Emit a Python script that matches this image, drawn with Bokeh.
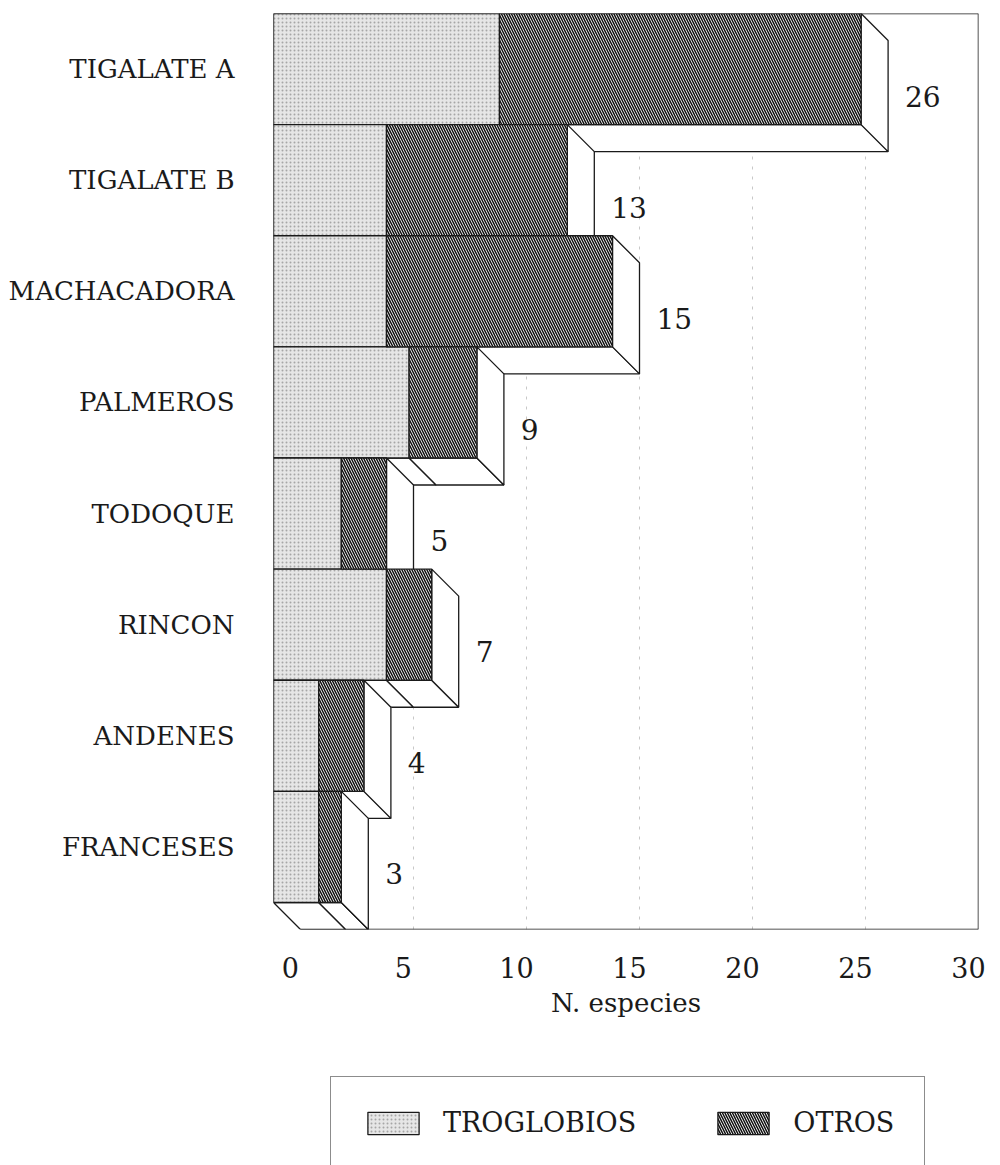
from bokeh.plotting import figure
from bokeh.models import Range1d, LinearAxis, FixedTicker, Legend, LegendItem
from bokeh.layouts import column
from bokeh.embed import file_html
from bokeh.resources import INLINE
from bokeh.core.properties import value

# ---- data ----
categories = ["TIGALATE A", "TIGALATE B", "MACHACADORA", "PALMEROS",
              "TODOQUE", "RINCON", "ANDENES", "FRANCESES"]
troglobios = [10, 5, 5, 6, 3, 5, 2, 2]
otros = [16, 8, 10, 3, 2, 2, 2, 1]
x_ticks = [0, 5, 10, 15, 20, 25, 30]
grid_ticks = [5, 10, 15, 20, 25]
series_names = ["TROGLOBIOS", "OTROS"]
x_title = "N. especies"

# ---- layout ----
W, H = 1000, 1060
H2 = 1165 - H
FL, FR, FT = 273, 22, 13
FB = H - 929
frame_w = W - FL - FR
frame_h = H - FT - FB
n = len(categories)
depth_px = 27
xmax = 30
kx = (frame_w - depth_px) / xmax
dx = depth_px / kx
ky = (frame_h - depth_px) / n
dy = depth_px / ky
FONT = "DejaVu Serif"
INK = "#1a1a1a"

TROG_STYLE = dict(fill_color="#e6e6e6", line_color=INK, line_width=1.3,
                  hatch_pattern=".", hatch_color="#8a8a8a", hatch_scale=4,
                  hatch_weight=0.7, hatch_alpha=0.7)
OTROS_STYLE = dict(fill_color="white", line_color=INK, line_width=1.3,
                   hatch_pattern="\\", hatch_color="#111111", hatch_scale=5,
                   hatch_weight=1.5)

p = figure(width=W, height=H, x_range=Range1d(0, xmax + dx), y_range=Range1d(-dy, n),
           output_backend="svg", toolbar_location=None,
           x_axis_location=None, y_axis_location=None,
           min_border_left=FL, min_border_right=FR, min_border_top=FT, min_border_bottom=FB)
p.outline_line_color = None
p.grid.visible = False
p.background_fill_color = "white"
p.border_fill_color = "white"

# gridlines on the back wall
p.segment(x0=[g + dx for g in grid_ticks], x1=[g + dx for g in grid_ticks],
          y0=[-dy] * len(grid_ticks), y1=[n] * len(grid_ticks),
          line_color="#c8c8c8", line_width=1, line_dash="3 7")

# frame lines
p.line(x=[0, xmax + dx], y=[n, n], line_color=INK, line_width=1.5)
p.line(x=[xmax + dx, xmax + dx], y=[n, -dy], line_color=INK, line_width=1.5)
p.line(x=[dx, xmax + dx], y=[-dy, -dy], line_color=INK, line_width=1.5)
p.line(x=[0, 0], y=[0, n], line_color=INK, line_width=1.5)

# 3D faces (bottom & right side), drawn top bar first
fx, fy = [], []
tl, tr, tb, tt = [], [], [], []
ol, orr, ob, ot = [], [], [], []
lx, ly, lt = [], [], []
for k, cat in enumerate(categories):
    i = n - 1 - k
    t = troglobios[k]
    o = otros[k]
    T = t + o
    for a, b in [(0, t), (t, T)]:
        fx.append([a, b, b + dx, a + dx])
        fy.append([i, i, i - dy, i - dy])
    fx.append([T, T + dx, T + dx, T])
    fy.append([i + 1, i + 1 - dy, i - dy, i])
    tl.append(0); tr.append(t); tb.append(i); tt.append(i + 1)
    ol.append(t); orr.append(T); ob.append(i); ot.append(i + 1)
    lx.append(T + dx + 0.75); ly.append(i + 0.5 - dy); lt.append(str(T))

p.patches(xs=fx, ys=fy, fill_color="white", line_color=INK, line_width=1.3)

p.quad(left=tl, right=tr, bottom=tb, top=tt, **TROG_STYLE)
p.quad(left=ol, right=orr, bottom=ob, top=ot, **OTROS_STYLE)

p.text(x=lx, y=ly, text=lt, text_font=value(FONT), text_font_size="28px",
       text_baseline="middle", text_align="left", text_color=INK)

# axes
p.extra_y_ranges = {"cat": Range1d(-dy - 0.5, n - 0.5)}
yaxis = LinearAxis(y_range_name="cat", ticker=FixedTicker(ticks=list(range(n))),
                   major_label_overrides={n - 1 - k: c for k, c in enumerate(categories)})
yaxis.axis_line_color = None
yaxis.major_tick_line_color = None
yaxis.minor_tick_line_color = None
yaxis.major_label_standoff = 33
yaxis.major_label_text_font = FONT
yaxis.major_label_text_font_size = "26px"
yaxis.major_label_text_color = INK
p.add_layout(yaxis, "left")

p.extra_x_ranges = {"lab": Range1d(-0.75, xmax + dx - 0.75)}
xaxis = LinearAxis(x_range_name="lab", ticker=FixedTicker(ticks=x_ticks), axis_label=x_title)
xaxis.axis_line_color = None
xaxis.major_tick_line_color = None
xaxis.minor_tick_line_color = None
xaxis.major_label_standoff = 21
xaxis.major_label_text_font = FONT
xaxis.major_label_text_font_size = "27px"
xaxis.major_label_text_color = INK
xaxis.axis_label_text_font = FONT
xaxis.axis_label_text_font_size = "26px"
xaxis.axis_label_text_font_style = "normal"
xaxis.axis_label_text_color = INK
xaxis.axis_label_standoff = 7
p.add_layout(xaxis, "below")

# ---- legend strip (its frame is aligned with the chart frame by the column) ----
p2 = figure(width=W, height=H2, x_range=Range1d(0, 1), y_range=Range1d(0, 1),
            output_backend="svg", toolbar_location=None,
            x_axis_location=None, y_axis_location=None,
            min_border_left=0, min_border_right=0, min_border_top=0, min_border_bottom=0)
p2.outline_line_color = None
p2.grid.visible = False
p2.border_fill_color = "white"
# swatch carriers, placed outside the visible range
lr1 = p2.quad(left=[-3], right=[-2], bottom=[-3], top=[-2], **TROG_STYLE)
lr2 = p2.quad(left=[-3], right=[-2], bottom=[-3], top=[-2], **OTROS_STYLE)
legend = Legend(items=[LegendItem(label=series_names[0], renderers=[lr1]),
                       LegendItem(label=series_names[1], renderers=[lr2])],
                orientation="horizontal", location=(57, -4),
                glyph_width=64, glyph_height=28, label_standoff=18, spacing=75,
                padding=30, margin=0,
                label_text_font=FONT, label_text_font_size="27px", label_text_color=INK,
                border_line_color=INK, border_line_width=1.5, background_fill_alpha=1.0)
p2.add_layout(legend, "center")

layout = column(p, p2, spacing=0)
open("out.html", "w").write(file_html(layout, INLINE))
